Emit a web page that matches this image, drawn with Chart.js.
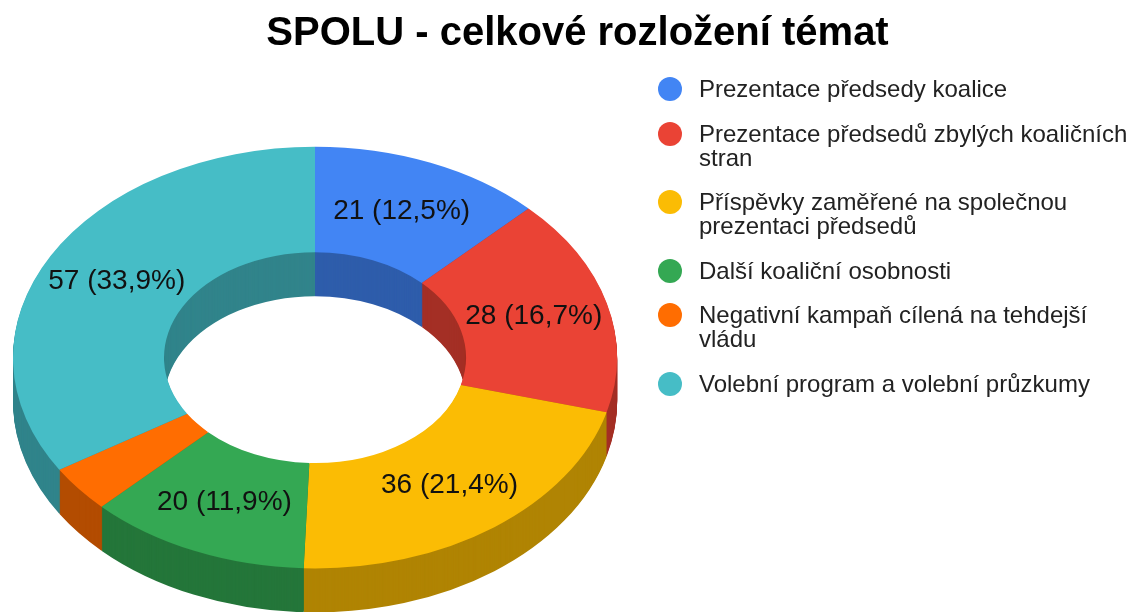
<!DOCTYPE html>
<html>
<head>
<meta charset="utf-8">
<script src="https://cdn.jsdelivr.net/npm/chart.js@4.4.1/dist/chart.umd.min.js"></script>
<style>
html,body{margin:0;padding:0;background:#fff;width:1130px;height:612px;overflow:hidden;}
#wrap{position:relative;width:1130px;height:612px;}
#c{position:absolute;left:0;top:0;}
#legend{position:absolute;left:658px;top:77px;width:472px;font-family:"Liberation Sans",Arial,sans-serif;font-size:24px;line-height:24px;color:#222;}
.item{display:flex;align-items:flex-start;margin-bottom:20.5px;}
.dot{width:24px;height:24px;border-radius:50%;flex:0 0 24px;margin-right:17px;}
.txt{width:445px;}
</style>
</head>
<body>
<div id="wrap">
<canvas id="c" width="1130" height="612"></canvas>
<div id="legend"></div>
</div>
<script>
const titleText = 'SPOLU - celkové rozložení témat';
const categories = [
  'Prezentace předsedy koalice',
  'Prezentace předsedů zbylých koaličních stran',
  'Příspěvky zaměřené na společnou prezentaci předsedů',
  'Další koaliční osobnosti',
  'Negativní kampaň cílená na tehdejší vládu',
  'Volební program a volební průzkumy'
];
const values = [21, 28, 36, 20, 6, 57];
const colors = ['#4285F4', '#EA4335', '#FBBC04', '#34A853', '#FF6D01', '#46BDC6'];

// projection of the flat doughnut onto a tilted 3D ring
const VIEW = {cx: 315, cy: 357.6, rx: 302, tilt: 0.698, depth: 44};
const FONT = '"Liberation Sans", Arial, sans-serif';

function darken(hex, f) {
  const n = parseInt(hex.slice(1), 16);
  const r = Math.round(((n >> 16) & 255) * f);
  const g = Math.round(((n >> 8) & 255) * f);
  const b = Math.round((n & 255) * f);
  return 'rgb(' + r + ',' + g + ',' + b + ')';
}

const pie3d = {
  id: 'pie3d',
  beforeDatasetsDraw(chart) {
    const ctx = chart.ctx;
    const arcs = chart.getDatasetMeta(0).data;
    if (!arcs.length) return;
    const ox = arcs[0].x, oy = arcs[0].y;
    const s = VIEW.rx / arcs[0].outerRadius;
    const paint = (dy, shade) => {
      ctx.save();
      ctx.translate(VIEW.cx, VIEW.cy + dy);
      ctx.scale(s, s * VIEW.tilt);
      ctx.translate(-ox, -oy);
      arcs.forEach((arc, i) => {
        const orig = arc.options;
        if (shade) {
          arc.options = Object.create(orig, {backgroundColor: {value: darken(colors[i], 0.7)}});
        }
        arc.draw(ctx);
        arc.options = orig;
      });
      ctx.restore();
    };
    for (let d = VIEW.depth; d >= 1; d--) paint(d, true);
    paint(0, false);

    const total = values.reduce((a, b) => a + b, 0);
    ctx.save();
    ctx.font = '28px ' + FONT;
    ctx.fillStyle = '#111';
    ctx.textAlign = 'center';
    ctx.textBaseline = 'middle';
    arcs.forEach((arc, i) => {
      const share = values[i] / total;
      if (share < 0.05) return;
      const mid = (arc.startAngle + arc.endAngle) / 2;
      const r = (arc.innerRadius + arc.outerRadius) / 2;
      const px = VIEW.cx + s * r * Math.cos(mid);
      const py = VIEW.cy + s * VIEW.tilt * r * Math.sin(mid);
      const txt = values[i] + ' (' + (share * 100).toFixed(1).replace('.', ',') + '%)';
      ctx.fillText(txt, px, py);
    });
    ctx.restore();
    return false;
  }
};

new Chart(document.getElementById('c'), {
  type: 'doughnut',
  data: {
    labels: categories,
    datasets: [{
      data: values,
      backgroundColor: colors,
      borderWidth: 0
    }]
  },
  options: {
    responsive: false,
    animation: false,
    devicePixelRatio: 1,
    cutout: '50%',
    layout: {padding: {left: 25}},
    plugins: {
      legend: {display: false},
      tooltip: {enabled: false},
      title: {
        display: true,
        text: titleText,
        color: '#000',
        font: {family: FONT, size: 40, weight: 'bold'},
        padding: {top: 10, bottom: 10}
      }
    }
  },
  plugins: [pie3d]
});

const leg = document.getElementById('legend');
categories.forEach((label, i) => {
  const item = document.createElement('div');
  item.className = 'item';
  const dot = document.createElement('div');
  dot.className = 'dot';
  dot.style.background = colors[i];
  const txt = document.createElement('div');
  txt.className = 'txt';
  txt.textContent = label;
  item.appendChild(dot);
  item.appendChild(txt);
  leg.appendChild(item);
});
</script>
</body>
</html>
